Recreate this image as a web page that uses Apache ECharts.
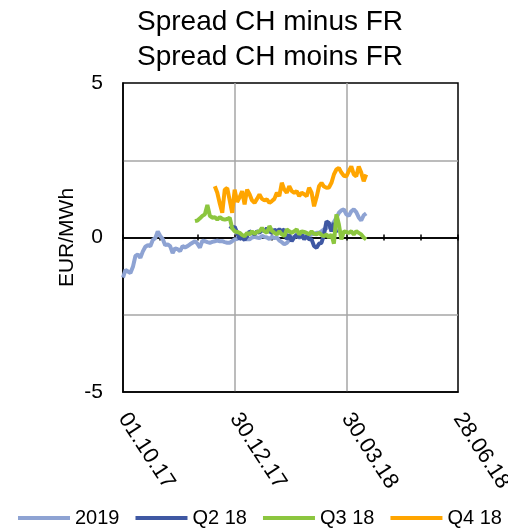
<!DOCTYPE html>
<html>
<head>
<meta charset="utf-8">
<script src="https://cdn.jsdelivr.net/npm/echarts@6/dist/echarts.min.js"></script>
<style>html,body{margin:0;padding:0;background:#fff}#c{width:508px;height:531px}</style>
</head>
<body>
<div id="c"></div>
<script>
// x values are days since 01.10.17
var tickLabels = ['01.10.17', '30.12.17', '30.03.18', '28.06.18'];
var seriesNames = ['2019', 'Q2 18', 'Q3 18', 'Q4 18'];
var seriesColors = ['#8ea3d3', '#3f58a3', '#8cc63f', '#ffa500'];
var step = 2;

var start2019 = 0;
var values2019 = [-1.30,-1.05,-1.10,-1.15,-0.95,-0.60,-0.55,-0.66,-0.45,-0.30,-0.25,-0.28,-0.08,-0.02,0.20,0.05,
 -0.05,-0.25,-0.22,-0.28,-0.50,-0.35,-0.38,-0.44,-0.28,-0.32,-0.28,-0.22,-0.17,-0.12,-0.20,-0.33,
 -0.10,-0.12,-0.15,-0.17,-0.14,-0.12,-0.10,-0.12,-0.12,-0.15,-0.17,-0.17,-0.12,-0.06,-0.05,0.02,
 0.04,-0.02,-0.06,-0.06,0.00,0.02,0.00,-0.02,0.05,0.02,0.00,-0.05,0.02,-0.02,0.00,-0.10,
 -0.15,-0.22,-0.18,-0.08,-0.02,0.02,0.05,0.00,0.02,0.05,0.08,0.06,0.10,0.12,0.15,0.15,
 0.20,0.26,0.30,0.37,0.40,0.50,0.64,0.80,0.88,0.91,0.75,0.70,0.85,0.91,0.82,0.65,0.55,0.72,0.78];

var startQ2 = 86;
var valuesQ2 = [0.37,0.31,0.35,0.15,-0.05,0.00,-0.08,0.05,0.20,0.15,0.10,0.20,0.15,0.25,0.20,0.30,
 0.20,0.15,0.25,0.20,0.26,0.20,0.26,-0.06,0.10,-0.12,0.00,0.10,0.00,0.10,-0.06,0.04,
 -0.06,-0.06,-0.28,-0.33,-0.20,-0.17,0.10,0.52,0.47,0.20,0.47,0.15];

var startQ3 = 58;
var valuesQ3 = [0.53,0.55,0.62,0.70,0.75,1.05,0.70,0.64,0.66,0.58,0.66,0.60,0.58,0.60,0.64,0.30,
 0.20,0.18,0.15,0.08,0.04,0.15,0.10,0.20,0.12,0.18,0.20,0.31,0.20,0.15,0.37,0.22,
 0.15,0.10,0.20,0.10,0.05,0.26,0.20,0.15,0.20,0.26,0.10,0.20,0.18,0.15,0.10,0.20,
 0.12,0.10,0.15,0.08,0.04,0.10,0.00,0.10,-0.20,0.75,0.42,-0.06,0.20,0.18,0.15,0.20,
 0.10,0.20,0.15,0.10,0.00,-0.06];

var startQ4 = 74;
var valuesQ4 = [1.66,1.45,1.10,0.80,1.55,1.60,1.20,0.80,1.55,1.15,1.30,1.50,1.07,1.55,1.40,1.20,
 1.12,1.25,1.39,1.25,1.20,1.23,1.12,1.18,1.25,1.45,1.34,1.77,1.55,1.45,1.66,1.50,
 1.45,1.50,1.34,1.45,1.40,1.34,1.61,1.45,1.01,1.30,1.66,1.77,1.65,1.61,1.62,1.77,
 2.04,2.20,2.25,2.10,2.00,1.98,2.15,2.30,2.04,1.98,2.30,2.10,1.82,2.04];

function pairs(start, vals) {
  return vals.map(function (v, i) { return [start + i * step, v]; });
}
var allData = [pairs(start2019, values2019), pairs(startQ2, valuesQ2), pairs(startQ3, valuesQ3), pairs(startQ4, valuesQ4)];

var chart = echarts.init(document.getElementById('c'));
var font = 'Liberation Sans, Arial, sans-serif';
var tickAxisBase = {
  type: 'value', min: 0, max: 270, interval: 30, gridIndex: 0,
  axisLine: { show: true, onZero: true, lineStyle: { color: '#000', width: 1.5 } },
  axisTick: { show: true, length: 3, lineStyle: { color: '#000', width: 1.5 } },
  axisLabel: { show: false }, splitLine: { show: false }
};
chart.setOption({
  animation: false,
  backgroundColor: '#fff',
  title: {
    text: 'Spread CH minus FR\nSpread CH moins FR',
    left: 137, top: 5, padding: 0,
    textStyle: { fontFamily: font, fontSize: 28, fontWeight: 'normal', color: '#000', lineHeight: 35 }
  },
  grid: { left: 123, right: 50, top: 83, bottom: 139, show: true, borderColor: '#000', borderWidth: 1.5, outerBoundsMode: 'none', containLabel: false },
  legend: {
    top: 508, left: 18, width: 490, padding: 0, itemWidth: 52, itemHeight: 4, itemGap: 16, icon: 'rect',
    data: seriesNames,
    textStyle: { fontFamily: font, fontSize: 20, color: '#000' }
  },
  xAxis: [
    {
      type: 'value', min: 0, max: 270, interval: 90, position: 'bottom',
      axisLine: { show: true, onZero: false, lineStyle: { color: '#000', width: 1.5 } },
      axisTick: { show: false },
      splitLine: { show: true, showMinLine: false, showMaxLine: false, lineStyle: { color: '#a6a6a6', width: 1.5 } },
      axisLabel: {
        rotate: -57, margin: 23, fontFamily: font, fontSize: 22, color: '#000',
        formatter: function (v) { return tickLabels[Math.round(v / 90)]; }
      }
    },
    Object.assign({}, tickAxisBase, { position: 'top', onZeroAxisIndex: 0 }),
    Object.assign({}, tickAxisBase, { position: 'bottom', axisLine: { show: true, onZero: true, onZeroAxisIndex: 1, lineStyle: { color: '#000', width: 1.5 } } })
  ],
  yAxis: [
    {
      type: 'value', min: -5, max: 5, interval: 2.5,
      name: 'EUR/MWh', nameLocation: 'middle', nameGap: 45, nameRotate: 90, nameMoveOverlap: false,
      nameTextStyle: { fontFamily: font, fontSize: 21, color: '#000' },
      axisLine: { show: true, onZero: false, lineStyle: { color: '#000', width: 1.5 } },
      axisTick: { show: false },
      splitLine: { show: true, showMinLine: false, showMaxLine: false, lineStyle: { color: '#a6a6a6', width: 1.5 } },
      axisLabel: {
        margin: 20, fontFamily: font, fontSize: 21, color: '#000',
        formatter: function (v) { return (v % 5 === 0) ? String(v) : ''; }
      }
    },
    {
      type: 'value', min: -5, max: 5, interval: 2.5, position: 'right',
      axisLine: { show: false, onZero: false }, axisTick: { show: false },
      axisLabel: { show: false }, splitLine: { show: false }
    }
  ],
  series: allData.map(function (d, i) {
    return {
      name: seriesNames[i], type: 'line', data: d, xAxisIndex: 0, yAxisIndex: 0,
      symbol: 'none', smooth: false,
      lineStyle: { color: seriesColors[i], width: 4 },
      itemStyle: { color: seriesColors[i] }
    };
  })
});
</script>
</body>
</html>
